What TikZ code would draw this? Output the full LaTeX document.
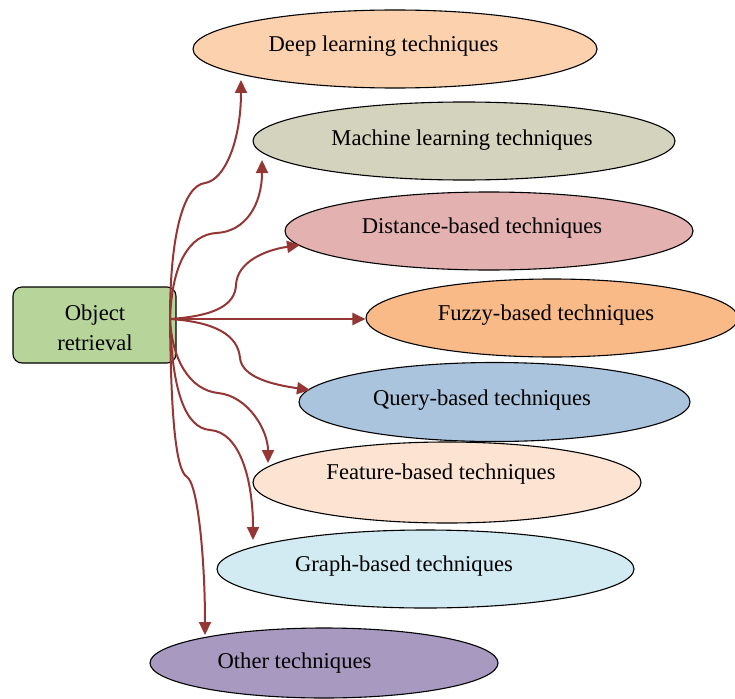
\documentclass[tikz,border=0pt]{standalone}
\usepackage{fontspec}
\setmainfont{Liberation Serif}
\usetikzlibrary{shapes.geometric,arrows.meta}
\definecolor{cDeep}{HTML}{FBD1AE}
\definecolor{cMach}{HTML}{D4D3BD}
\definecolor{cDist}{HTML}{E3B1B0}
\definecolor{cFuzz}{HTML}{F9BA88}
\definecolor{cQuery}{HTML}{AAC4DE}
\definecolor{cFeat}{HTML}{FDE4D2}
\definecolor{cGraph}{HTML}{D2EAF1}
\definecolor{cOther}{HTML}{A899C0}
\definecolor{cObj}{HTML}{B7D49B}
\definecolor{arrowred}{HTML}{943634}
\begin{document}
\begin{tikzpicture}[x=1pt,y=-1pt,
  ell/.style={ellipse,draw=black,line width=1.1pt,inner sep=0pt},
  lbl/.style={anchor=base,font=\fontsize{22.6}{27}\selectfont,inner sep=0pt},
  conn/.style={draw=arrowred,line width=2pt,-{Triangle[length=13pt,width=12pt]}}]
\useasboundingbox (0,0) rectangle (735,698);
% ellipses
\node[ell,fill=cDeep,minimum width=404pt,minimum height=78pt] (deep) at (395,49) {};
\node[lbl] (deepT) at (383.5,52) {Deep learning techniques};
\node[ell,fill=cMach,minimum width=422pt,minimum height=78pt] (mach) at (464,141) {};
\node[lbl] (machT) at (462,145) {Machine learning techniques};
\node[ell,fill=cDist,minimum width=408pt,minimum height=78pt] (dist) at (489,231) {};
\node[lbl] (distT) at (482,233) {Distance-based techniques};
\node[ell,fill=cFuzz,minimum width=372pt,minimum height=78pt] (fuzz) at (552,318) {};
\node[lbl] (fuzzT) at (546,320) {Fuzzy-based techniques};
\node[ell,fill=cQuery,minimum width=391pt,minimum height=79pt] (query) at (494.5,402) {};
\node[lbl] (queryT) at (482,405) {Query-based techniques};
\node[ell,fill=cFeat,minimum width=388pt,minimum height=81pt] (feat) at (447,482.5) {};
\node[lbl] (featT) at (441,479) {Feature-based techniques};
\node[ell,fill=cGraph,minimum width=417pt,minimum height=78pt] (graph) at (425.5,569) {};
\node[lbl] (graphT) at (404,571) {Graph-based techniques};
\node[ell,fill=cOther,minimum width=348pt,minimum height=70pt] (other) at (324,663) {};
\node[lbl] (otherT) at (294.5,668) {Other techniques};
% source box
\node[draw=black,line width=1.1pt,rounded corners=9pt,fill=cObj,minimum width=163pt,minimum height=76pt,
  inner sep=0pt] (obj) at (94.5,325) {};
\node[align=center,inner sep=0pt,font=\fontsize{22.6}{30}\selectfont] (objT) at (95,328) {Object\\retrieval};
% coordinates
\coordinate (src) at (170,319);
\coordinate (b1) at (205,183);   \coordinate (t1) at (241,80);
\coordinate (b2) at (216,233);   \coordinate (t2) at (262,160);
\coordinate (b3) at (236,285);   \coordinate (t3) at (300,245);
\coordinate (b5) at (240,358);   \coordinate (t5) at (310,390);
\coordinate (b6) at (218,393);   \coordinate (t6) at (268,463);
\coordinate (b7) at (210,430);   \coordinate (t7) at (253,540);
\coordinate (b8) at (187,477);   \coordinate (t8) at (205,635);
% connectors
\draw[conn] (src) .. controls (170,240) and (182,186) .. (b1) .. controls (225,180) and (241,140) .. (t1);
\draw[conn] (src) .. controls (172,262) and (190,235) .. (b2) .. controls (245,232) and (262,205) .. (t2);
\draw[conn] (src) .. controls (215,316) and (235,305) .. (b3) .. controls (237,262) and (265,250) .. (t3);
\draw[conn] (src) -- (src -| fuzz.west);
\draw[conn] (src) .. controls (215,322) and (238,335) .. (b5) .. controls (242,378) and (275,385) .. (t5);
\draw[conn] (src) .. controls (172,360) and (190,390) .. (b6) .. controls (248,396) and (268,430) .. (t6);
\draw[conn] (src) .. controls (172,390) and (185,428) .. (b7) .. controls (240,432) and (253,480) .. (t7);
\draw[conn] (src) .. controls (171,420) and (176,470) .. (b8) .. controls (198,484) and (205,560) .. (t8);
\end{tikzpicture}
\end{document}
